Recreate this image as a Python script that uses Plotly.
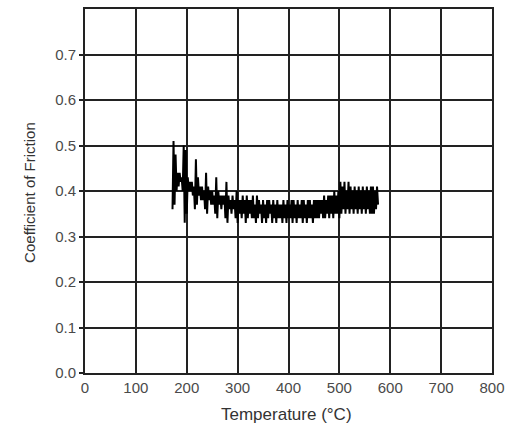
import plotly.graph_objects as go

temperature = [172,174,176,178,180,182,184,186,188,190,192,194,196,198,200,202,204,206,208,210,
212,214,216,218,220,222,224,226,228,230,232,234,236,238,240,242,244,246,248,250,
252,254,256,258,260,262,264,266,268,270,272,274,276,278,280,282,284,286,288,290,
292,294,296,298,300,302,304,306,308,310,312,314,316,318,320,322,324,326,328,330,
332,334,336,338,340,342,344,346,348,350,352,354,356,358,360,362,364,366,368,370,
372,374,376,378,380,382,384,386,388,390,392,394,396,398,400,402,404,406,408,410,
412,414,416,418,420,422,424,426,428,430,432,434,436,438,440,442,444,446,448,450,
452,454,456,458,460,462,464,466,468,470,472,474,476,478,480,482,484,486,488,490,
492,494,496,498,500,502,504,506,508,510,512,514,516,518,520,522,524,526,528,530,
532,534,536,538,540,542,544,546,548,550,552,554,556,558,560,562,564,566,568,570,
572,574,576]

friction = [0.36,0.51,0.37,0.48,0.40,0.44,0.41,0.44,0.42,0.43,0.40,0.50,0.33,0.49,0.35,0.43,0.40,0.42,0.40,0.42,
0.39,0.41,0.36,0.47,0.37,0.43,0.39,0.41,0.38,0.41,0.38,0.40,0.36,0.44,0.35,0.41,0.38,0.40,0.37,0.40,
0.37,0.39,0.35,0.43,0.34,0.40,0.37,0.39,0.36,0.39,0.37,0.39,0.34,0.42,0.33,0.39,0.36,0.38,0.35,0.39,
0.36,0.38,0.34,0.40,0.33,0.38,0.35,0.38,0.34,0.39,0.35,0.38,0.33,0.39,0.34,0.38,0.35,0.38,0.34,0.39,
0.34,0.37,0.33,0.39,0.34,0.38,0.35,0.37,0.33,0.38,0.34,0.37,0.33,0.38,0.34,0.38,0.35,0.37,0.33,0.38,
0.34,0.37,0.33,0.38,0.34,0.37,0.34,0.37,0.33,0.38,0.34,0.37,0.33,0.38,0.34,0.37,0.34,0.38,0.33,0.38,
0.34,0.37,0.33,0.38,0.34,0.37,0.34,0.38,0.33,0.38,0.34,0.37,0.33,0.38,0.34,0.38,0.34,0.37,0.33,0.38,
0.34,0.38,0.34,0.38,0.34,0.38,0.35,0.38,0.34,0.39,0.34,0.38,0.35,0.39,0.34,0.39,0.35,0.39,0.34,0.40,
0.35,0.39,0.35,0.40,0.34,0.42,0.35,0.41,0.36,0.42,0.35,0.40,0.36,0.42,0.35,0.41,0.36,0.40,0.35,0.41,
0.36,0.40,0.35,0.41,0.36,0.40,0.35,0.41,0.36,0.40,0.35,0.41,0.36,0.40,0.35,0.41,0.35,0.41,0.35,0.40,
0.36,0.41,0.37]

x_ticks = [0, 100, 200, 300, 400, 500, 600, 700, 800]
y_ticks = [0.0, 0.1, 0.2, 0.3, 0.4, 0.5, 0.6, 0.7]
y_tick_labels = ["0.0", "0.1", "0.2", "0.3", "0.4", "0.5", "0.6", "0.7"]

fig = go.Figure()
fig.add_trace(go.Scatter(x=temperature, y=friction, mode="lines",
                         line=dict(color="black", width=2), showlegend=False))

tick_font = dict(family="Liberation Sans, Arial, sans-serif", size=15, color="#4a4a4a")

fig.update_layout(
    width=508, height=427,
    margin=dict(l=85, r=16, t=9, b=54),
    paper_bgcolor="white", plot_bgcolor="white",
    xaxis=dict(range=[0, 800], tickvals=x_ticks, ticktext=[str(v) for v in x_ticks],
               showgrid=True, gridcolor="#222222", gridwidth=2,
               showline=True, linecolor="#222222", linewidth=2, mirror=True,
               ticks="", zeroline=False, tickfont=tick_font, automargin=False),
    yaxis=dict(range=[0, 0.8], tickvals=y_ticks, ticktext=y_tick_labels,
               showgrid=True, gridcolor="#222222", gridwidth=2,
               showline=True, linecolor="#222222", linewidth=2, mirror=True,
               ticks="outside", ticklen=4, tickcolor="#222222", tickwidth=2,
               zeroline=False, tickfont=tick_font, automargin=False),
    annotations=[
        dict(text="Temperature (°C)", xref="paper", yref="paper", x=0.496, y=-0.115,
             xanchor="center", yanchor="middle", showarrow=False,
             font=dict(family="Liberation Sans, Arial, sans-serif", size=17, color="#333333")),
        dict(text="Coefficient of Friction", xref="paper", yref="paper", x=-0.135, y=0.495,
             xanchor="center", yanchor="middle", showarrow=False, textangle=-90,
             font=dict(family="Liberation Sans Narrow, Liberation Sans, Arial, sans-serif", size=15, color="#333333")),
    ],
)

fig.write_html("out.html", config={"displayModeBar": False},
               post_script="document.body.style.margin='0px';document.body.style.overflow='hidden';")
